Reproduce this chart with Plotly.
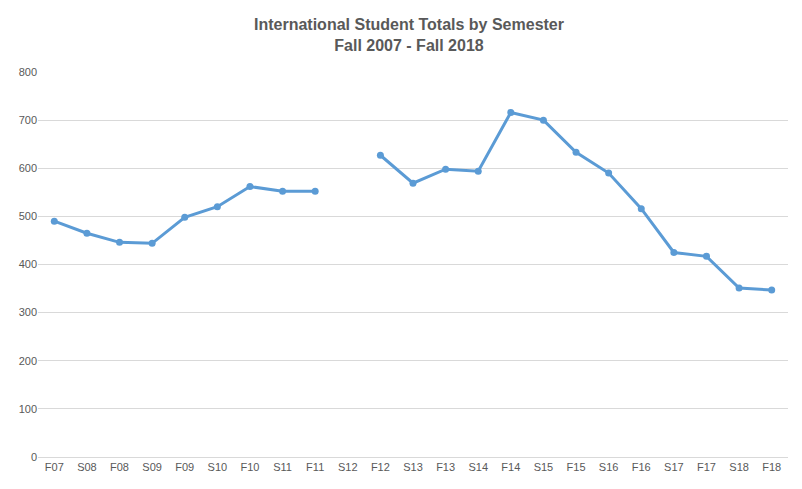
import plotly.graph_objects as go

categories = ["F07","S08","F08","S09","F09","S10","F10","S11","F11","S12","F12","S13",
              "F13","S14","F14","S15","F15","S16","F16","S17","F17","S18","F18"]
totals = [490,465,446,444,498,520,562,552,552,None,627,569,598,594,716,700,633,590,516,425,417,351,347]
y_ticks = [0,100,200,300,400,500,600,700,800]

fig = go.Figure(go.Scatter(x=categories, y=totals, mode="lines+markers",
    line=dict(color="#5B9BD5", width=3), marker=dict(color="#5B9BD5", size=7),
    connectgaps=False))
fig.update_layout(
    width=802, height=489, paper_bgcolor="white", plot_bgcolor="white",
    margin=dict(l=30, r=22, t=64, b=40),
    title=dict(text="<b>International Student Totals by Semester<br>Fall 2007 - Fall 2018</b>",
               x=0.5, xanchor="center", y=0.955, yanchor="top",
               font=dict(family="Liberation Sans, Arial", size=16, color="#595959")),
    font=dict(family="Liberation Sans, Arial", size=11, color="#595959"),
    showlegend=False,
)
fig.update_xaxes(type="category", showgrid=False, showline=True, linecolor="#D9D9D9",
                 ticks="", range=[-0.5, 22.5], tickfont=dict(color="#595959"))
fig.update_yaxes(range=[0, 800], tickvals=y_ticks, gridcolor="#D9D9D9", zeroline=False,
                 showline=False, ticks="", tickfont=dict(color="#595959"))
fig.write_html("out.html")
